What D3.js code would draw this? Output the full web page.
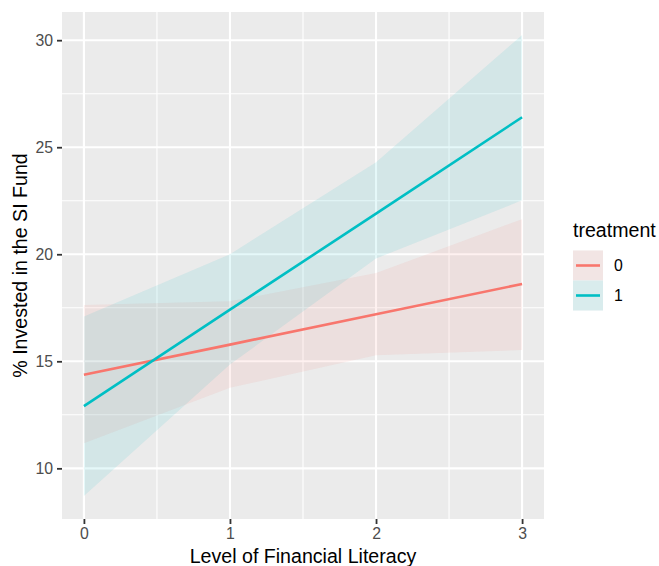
<!DOCTYPE html>
<html>
<head>
<meta charset="utf-8">
<script src="https://cdn.jsdelivr.net/npm/d3@7"></script>
<style>
  html, body { margin: 0; padding: 0; background: #ffffff; }
  svg { display: block; font-family: "Liberation Sans", Arial, Helvetica, sans-serif; }
</style>
</head>
<body>
<svg id="chart" width="659" height="566"></svg>
<script>
// ---- data ----
const literacy = [0, 1, 2, 3];
const groups = ["0", "1"];
const fit0   = [14.37, 15.78, 17.20, 18.61];
const lower0 = [11.17, 13.76, 15.28, 15.53];
const upper0 = [17.63, 17.80, 19.12, 21.64];
const fit1   = [12.91, 17.41, 21.90, 26.40];
const lower1 = [8.71, 14.85, 19.80, 22.52];
const upper1 = [17.09, 20.00, 24.30, 30.24];
const xTicks = [0, 1, 2, 3];
const yTicks = [10, 15, 20, 25, 30];
const xMinor = [0.5, 1.5, 2.5];
const yMinor = [12.5, 17.5, 22.5, 27.5];
const colors = ["#F8766D", "#00BFC4"];

const series = [
  { key: groups[0], fit: fit0, lower: lower0, upper: upper0, color: colors[0] },
  { key: groups[1], fit: fit1, lower: lower1, upper: upper1, color: colors[1] }
];

// ---- layout ----
const panel = { left: 62, right: 544, top: 12, bottom: 519 };
const svg = d3.select("#chart");

const xExt = d3.extent(literacy);
const xPad = (xExt[1] - xExt[0]) * 0.05;
const allY = lower0.concat(upper0, lower1, upper1, fit0, fit1);
const yExt = d3.extent(allY);
const yPad = (yExt[1] - yExt[0]) * 0.05;

const x = d3.scaleLinear().domain([xExt[0] - xPad, xExt[1] + xPad]).range([panel.left, panel.right]);
const y = d3.scaleLinear().domain([yExt[0] - yPad, yExt[1] + yPad]).range([panel.bottom, panel.top]);

// panel background
svg.append("rect")
  .attr("x", panel.left).attr("y", panel.top)
  .attr("width", panel.right - panel.left).attr("height", panel.bottom - panel.top)
  .attr("fill", "#EBEBEB");

const grid = svg.append("g");
// minor grid
grid.selectAll(".ymin").data(yMinor).join("line")
  .attr("x1", panel.left).attr("x2", panel.right)
  .attr("y1", d => y(d)).attr("y2", d => y(d))
  .attr("stroke", "#fff").attr("stroke-width", 1.1);
grid.selectAll(".xmin").data(xMinor).join("line")
  .attr("y1", panel.top).attr("y2", panel.bottom)
  .attr("x1", d => x(d)).attr("x2", d => x(d))
  .attr("stroke", "#fff").attr("stroke-width", 1.1);
// major grid
grid.selectAll(".ymaj").data(yTicks).join("line")
  .attr("x1", panel.left).attr("x2", panel.right)
  .attr("y1", d => y(d)).attr("y2", d => y(d))
  .attr("stroke", "#fff").attr("stroke-width", 2.1);
grid.selectAll(".xmaj").data(xTicks).join("line")
  .attr("y1", panel.top).attr("y2", panel.bottom)
  .attr("x1", d => x(d)).attr("x2", d => x(d))
  .attr("stroke", "#fff").attr("stroke-width", 2.1);

// ribbons
const area = d3.area()
  .x((d, i) => x(literacy[i]))
  .y0(d => y(d[0]))
  .y1(d => y(d[1]));
series.forEach(s => {
  const pts = s.lower.map((v, i) => [v, s.upper[i]]);
  svg.append("path").datum(pts)
    .attr("d", area)
    .attr("fill", s.color).attr("fill-opacity", 0.1);
});

// lines
const line = d3.line().x((d, i) => x(literacy[i])).y(d => y(d));
series.forEach(s => {
  svg.append("path").datum(s.fit)
    .attr("d", line)
    .attr("fill", "none").attr("stroke", s.color).attr("stroke-width", 2.6);
});

// axes
const xAxis = svg.append("g")
  .attr("transform", `translate(0,${panel.bottom})`)
  .call(d3.axisBottom(x).tickValues(xTicks).tickSize(5).tickPadding(4).tickFormat(d3.format("d")));
const yAxis = svg.append("g")
  .attr("transform", `translate(${panel.left},0)`)
  .call(d3.axisLeft(y).tickValues(yTicks).tickSize(5).tickPadding(4).tickFormat(d3.format("d")));
[xAxis, yAxis].forEach(a => {
  a.select(".domain").remove();
  a.selectAll(".tick line").attr("stroke", "#333333").attr("stroke-width", 1.8);
  a.selectAll(".tick text").attr("fill", "#4D4D4D").style("font-size", "15.8px");
});

// axis titles
svg.append("text")
  .attr("x", (panel.left + panel.right) / 2).attr("y", 563)
  .attr("text-anchor", "middle").attr("fill", "#000")
  .style("font-size", "19.6px")
  .text("Level of Financial Literacy");
svg.append("text")
  .attr("transform", `translate(27,${(panel.top + panel.bottom) / 2}) rotate(-90)`)
  .attr("text-anchor", "middle").attr("fill", "#000")
  .style("font-size", "19.6px")
  .text("% Invested in the SI Fund");

// legend
const leg = svg.append("g").attr("transform", "translate(573,0)");
leg.append("text").attr("x", 0).attr("y", 237)
  .attr("fill", "#000").style("font-size", "19.6px").text("treatment");
const keySize = 30;
series.forEach((s, i) => {
  const top = 250.5 + i * keySize;
  leg.append("rect").attr("x", 0).attr("y", top).attr("width", keySize).attr("height", keySize)
    .attr("fill", "#F2F2F2");
  leg.append("rect").attr("x", 0).attr("y", top).attr("width", keySize).attr("height", keySize)
    .attr("fill", s.color).attr("fill-opacity", 0.1);
  leg.append("line").attr("x1", 3).attr("x2", keySize - 3)
    .attr("y1", top + keySize / 2).attr("y2", top + keySize / 2)
    .attr("stroke", s.color).attr("stroke-width", 2.6);
  leg.append("text").attr("x", 41).attr("y", top + keySize / 2).attr("dy", "0.36em")
    .attr("fill", "#000").style("font-size", "15.8px").text(s.key);
});
</script>
</body>
</html>
